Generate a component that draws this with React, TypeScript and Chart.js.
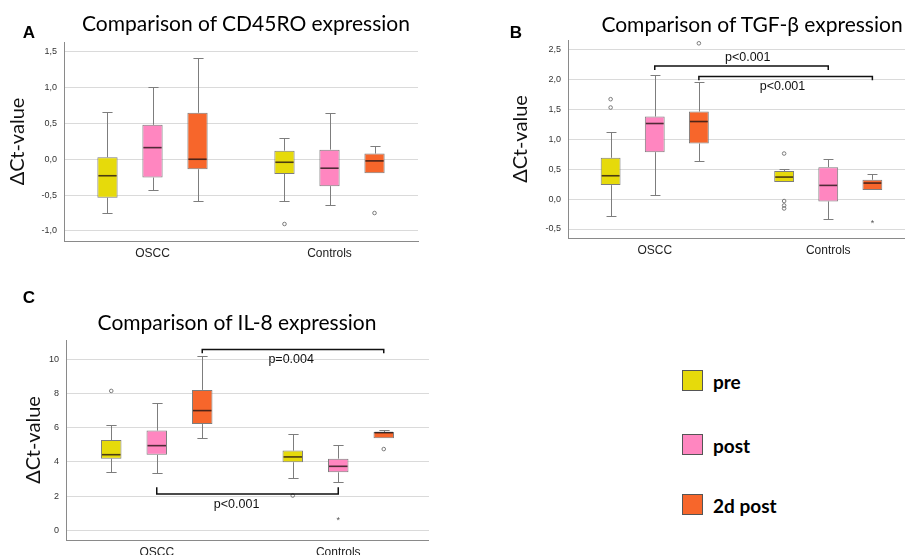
import React, { useEffect, useRef } from "react";
import { Chart, registerables } from "chart.js";
Chart.register(...registerables);

// ---------- data ----------
const categories = ["OSCC", "Controls"];
const seriesNames = ["pre", "post", "2d post"];
const seriesColors = ["#E6DA0B", "#FF86C0", "#F7662B"];

// five-number summaries: [lower whisker, Q1, median, Q3, upper whisker] for [OSCC, Controls]
const cd45roPre = [[-0.75, -0.537, -0.23, 0.028, 0.653], [-0.583, -0.204, -0.042, 0.12, 0.29]];
const cd45roPost = [[-0.43, -0.255, 0.162, 0.48, 1.005], [-0.639, -0.375, -0.125, 0.134, 0.639]];
const cd45roPost2d = [[-0.583, -0.139, 0.0, 0.648, 1.417], [-0.194, -0.194, -0.023, 0.079, 0.19]];
// [series, category, value]
const cd45roOutliers = [[0, 1, -0.903], [2, 1, -0.75]];
const cd45roExtremes: number[][] = [];

const tgfPre = [[-0.289, 0.233, 0.389, 0.689, 1.117], [0.283, 0.283, 0.367, 0.467, 0.5]];
const tgfPost = [[0.067, 0.783, 1.261, 1.378, 2.078], [-0.333, -0.039, 0.228, 0.533, 0.667]];
const tgfPost2d = [[0.633, 0.928, 1.294, 1.461, 1.95], [0.15, 0.15, 0.267, 0.322, 0.417]];
const tgfOutliers = [[0, 0, 1.667], [0, 0, 1.528], [2, 0, 2.6], [0, 1, 0.76], [0, 1, -0.033], [0, 1, -0.107], [0, 1, -0.157]];
const tgfExtremes = [[2, 1, -0.373]];

const il8Pre = [[3.39, 4.19, 4.42, 5.28, 6.14], [3.04, 3.98, 4.29, 4.66, 5.61]];
const il8Post = [[3.35, 4.41, 4.95, 5.83, 7.43], [2.82, 3.39, 3.74, 4.19, 4.97]];
const il8Post2d = [[5.38, 6.22, 7.0, 8.21, 10.19], [5.38, 5.38, 5.71, 5.75, 5.88]];
const il8Outliers = [[0, 0, 8.15], [0, 1, 2.03], [2, 1, 4.75]];
const il8Extremes = [[1, 1, 0.68]];

// significance brackets: series, bar value level, tick end value, label, label value, label position along bracket
const tgfBrackets = [
  { series: 1, level: 2.222, tickTo: 2.155, label: "p<0.001", labelAt: 2.36, frac: 0.536 },
  { series: 2, level: 2.044, tickTo: 1.983, label: "p<0.001", labelAt: 1.877, frac: 0.482 },
];
const il8Brackets = [
  { series: 2, level: 10.58, tickTo: 10.35, label: "p=0.004", labelAt: 10.0, frac: 0.49 },
  { series: 1, level: 2.12, tickTo: 2.51, label: "p<0.001", labelAt: 1.52, frac: 0.44 },
];

const titleA = "Comparison of CD45RO expression";
const titleB = "Comparison of TGF-β expression";
const titleC = "Comparison of IL-8 expression";
const yTitle = "ΔCt-value";

// ---------- drawing ----------
type Bracket = { series: number; level: number; tickTo: number; label: string; labelAt: number; frac: number };
type PanelSpec = {
  boxes: number[][][];
  outliers: number[][];
  extremes: number[][];
  brackets: Bracket[];
  yMin: number;
  yMax: number;
  step: number;
  decimals: number;
  yAxisWidth: number;
  titlePad: number;
  padTop: number;
  padRight: number;
  catPct: number;
};

function decorPlugin(spec: PanelSpec) {
  return {
    id: "boxDecor",
    beforeDatasetsDraw(chart: any) {
      const ctx = chart.ctx;
      const y = chart.scales.y;
      ctx.save();
      ctx.strokeStyle = "#7d7d7d";
      ctx.lineWidth = 1;
      spec.boxes.forEach((series, si) => {
        const meta = chart.getDatasetMeta(si);
        series.forEach((b, ci) => {
          const el = meta.data[ci];
          const x = Math.round(el.x) + 0.5;
          const cap = el.width / 2;
          const seg = (v1: number, v2: number) => {
            if (Math.abs(v1 - v2) < 1e-9) return;
            const p1 = y.getPixelForValue(v1);
            const p2 = Math.round(y.getPixelForValue(v2)) + 0.5;
            ctx.beginPath();
            ctx.moveTo(x, p1);
            ctx.lineTo(x, p2);
            ctx.moveTo(x - cap / 2, p2);
            ctx.lineTo(x + cap / 2, p2);
            ctx.stroke();
          };
          seg(b[3], b[4]);
          seg(b[1], b[0]);
        });
      });
      ctx.restore();
    },
    afterDatasetsDraw(chart: any) {
      const ctx = chart.ctx;
      const y = chart.scales.y;
      ctx.save();
      // medians
      spec.boxes.forEach((series, si) => {
        const meta = chart.getDatasetMeta(si);
        series.forEach((b, ci) => {
          const el = meta.data[ci];
          const py = y.getPixelForValue(b[2]);
          ctx.strokeStyle = "rgba(35,20,20,0.8)";
          ctx.lineWidth = 1.6;
          ctx.beginPath();
          ctx.moveTo(el.x - el.width / 2 + 1, py);
          ctx.lineTo(el.x + el.width / 2 - 1, py);
          ctx.stroke();
        });
      });
      // outliers
      ctx.strokeStyle = "#6e6e6e";
      ctx.lineWidth = 0.9;
      spec.outliers.forEach(([si, ci, v]) => {
        const el = chart.getDatasetMeta(si).data[ci];
        ctx.beginPath();
        ctx.arc(el.x, y.getPixelForValue(v), 1.8, 0, Math.PI * 2);
        ctx.stroke();
      });
      // extremes
      ctx.fillStyle = "#555";
      ctx.font = "9px 'Liberation Sans'";
      ctx.textAlign = "center";
      ctx.textBaseline = "middle";
      spec.extremes.forEach(([si, ci, v]) => {
        const el = chart.getDatasetMeta(si).data[ci];
        ctx.fillText("*", el.x, y.getPixelForValue(v) + 2);
      });
      // brackets
      ctx.strokeStyle = "#111";
      ctx.lineWidth = 1.5;
      ctx.fillStyle = "#111";
      ctx.font = "12.5px 'Liberation Sans'";
      spec.brackets.forEach((br) => {
        const meta = chart.getDatasetMeta(br.series);
        const x1 = meta.data[0].x;
        const x2 = meta.data[1].x;
        const py = y.getPixelForValue(br.level);
        const pt = y.getPixelForValue(br.tickTo);
        ctx.beginPath();
        ctx.moveTo(x1, pt);
        ctx.lineTo(x1, py);
        ctx.lineTo(x2, py);
        ctx.lineTo(x2, pt);
        ctx.stroke();
        ctx.fillText(br.label, x1 + (x2 - x1) * br.frac, y.getPixelForValue(br.labelAt));
      });
      ctx.restore();
    },
  };
}

function Panel(props: { spec: PanelSpec; left: number; top: number; width: number; height: number }) {
  const ref = useRef<HTMLCanvasElement>(null);
  const { spec } = props;
  useEffect(() => {
    if (!ref.current) return;
    const chart = new Chart(ref.current, {
      type: "bar",
      data: {
        labels: categories,
        datasets: spec.boxes.map((series, si) => ({
          label: seriesNames[si],
          data: series.map((b) => [b[1], b[3]]),
          backgroundColor: seriesColors[si],
          borderColor: "#7d7d7d",
          borderWidth: 1,
          borderSkipped: false,
          categoryPercentage: spec.catPct,
          barPercentage: 0.45,
        })),
      } as any,
      options: {
        animation: false,
        responsive: false,
        maintainAspectRatio: false,
        layout: { padding: { top: spec.padTop, right: spec.padRight, bottom: 0, left: 0 } },
        plugins: { legend: { display: false }, tooltip: { enabled: false }, title: { display: false } },
        scales: {
          x: {
            grid: { display: false, drawTicks: false },
            border: { color: "#8a8a8a", width: 1 },
            ticks: { color: "#222", padding: 5, font: { family: "'Liberation Sans', Arial", size: 12 } },
            afterFit: (s: any) => {
              s.height = 24;
            },
          },
          y: {
            min: spec.yMin,
            max: spec.yMax,
            grid: { color: "#dadada", drawTicks: false, lineWidth: 1 },
            border: { color: "#8a8a8a", width: 1 },
            ticks: {
              stepSize: spec.step,
              includeBounds: false,
              padding: 7,
              color: "#333",
              font: { family: "'Liberation Sans', Arial", size: 9 },
              callback: (v: any) => Number(v).toFixed(spec.decimals).replace(".", ","),
            },
            title: {
              display: true,
              text: yTitle,
              color: "#111",
              font: { family: "Lato", size: 20 },
              padding: { top: spec.titlePad, bottom: 0 },
            },
            afterFit: (s: any) => {
              s.width = spec.yAxisWidth;
            },
          },
        },
      } as any,
      plugins: [decorPlugin(spec)],
    });
    return () => chart.destroy();
  }, []);
  return (
    <canvas
      ref={ref}
      width={props.width}
      height={props.height}
      style={{ position: "absolute", left: props.left, top: props.top, width: props.width, height: props.height }}
    />
  );
}

const textStyle = (x: number, y: number, extra: any): any => ({
  position: "absolute",
  left: x,
  top: y,
  transform: "translate(-50%, -50%)",
  whiteSpace: "nowrap",
  lineHeight: 1,
  color: "#000",
  ...extra,
});

const titleFont = { fontFamily: "Lato", fontSize: 21 };
const letterFont = { fontFamily: "'Liberation Sans', Arial", fontSize: 17, fontWeight: "bold" };
const legendFont = { fontFamily: "Lato", fontSize: 19, fontWeight: "bold" };

export default function App() {
  const specA: PanelSpec = {
    boxes: [cd45roPre, cd45roPost, cd45roPost2d],
    outliers: cd45roOutliers,
    extremes: cd45roExtremes,
    brackets: [],
    yMin: -1.14,
    yMax: 1.635,
    step: 0.5,
    decimals: 1,
    yAxisWidth: 64,
    titlePad: 6,
    padTop: 42,
    padRight: 12,
    catPct: 0.763,
  };
  const specB: PanelSpec = {
    boxes: [tgfPre, tgfPost, tgfPost2d],
    outliers: tgfOutliers,
    extremes: tgfExtremes,
    brackets: tgfBrackets,
    yMin: -0.65,
    yMax: 2.655,
    step: 0.5,
    decimals: 1,
    yAxisWidth: 68,
    titlePad: 9,
    padTop: 40,
    padRight: 0,
    catPct: 0.763,
  };
  const specC: PanelSpec = {
    boxes: [il8Pre, il8Post, il8Post2d],
    outliers: il8Outliers,
    extremes: il8Extremes,
    brackets: il8Brackets,
    yMin: -0.57,
    yMax: 11.13,
    step: 2,
    decimals: 0,
    yAxisWidth: 66,
    titlePad: 22,
    padTop: 40,
    padRight: 0,
    catPct: 0.752,
  };
  const legendRows = [370, 434, 494];
  return (
    <div style={{ position: "fixed", left: 0, top: 0, width: 905, height: 555, overflow: "hidden", background: "#fff" }}>
      <Panel spec={specA} left={0} top={0} width={430} height={265} />
      <Panel spec={specB} left={500} top={0} width={415} height={262} />
      <Panel spec={specC} left={0} top={300} width={429} height={264} />
      <div style={textStyle(246, 22, titleFont)}>{titleA}</div>
      <div style={textStyle(752, 23, titleFont)}>{titleB}</div>
      <div style={textStyle(237, 321, titleFont)}>{titleC}</div>
      <div style={textStyle(29, 32, letterFont)}>A</div>
      <div style={textStyle(516, 32, letterFont)}>B</div>
      <div style={textStyle(29, 297, letterFont)}>C</div>
      {seriesNames.map((name, i) => (
        <React.Fragment key={name}>
          <div
            style={{
              position: "absolute",
              left: 682,
              top: legendRows[i],
              width: 21,
              height: 21,
              background: seriesColors[i],
              border: "1.5px solid #555",
              boxSizing: "border-box",
            }}
          />
          <div
            style={{
              position: "absolute",
              left: 713,
              top: legendRows[i] + 10.5,
              transform: "translateY(-50%)",
              whiteSpace: "nowrap",
              lineHeight: 1,
              color: "#000",
              ...legendFont,
            }}
          >
            {name}
          </div>
        </React.Fragment>
      ))}
    </div>
  );
}
